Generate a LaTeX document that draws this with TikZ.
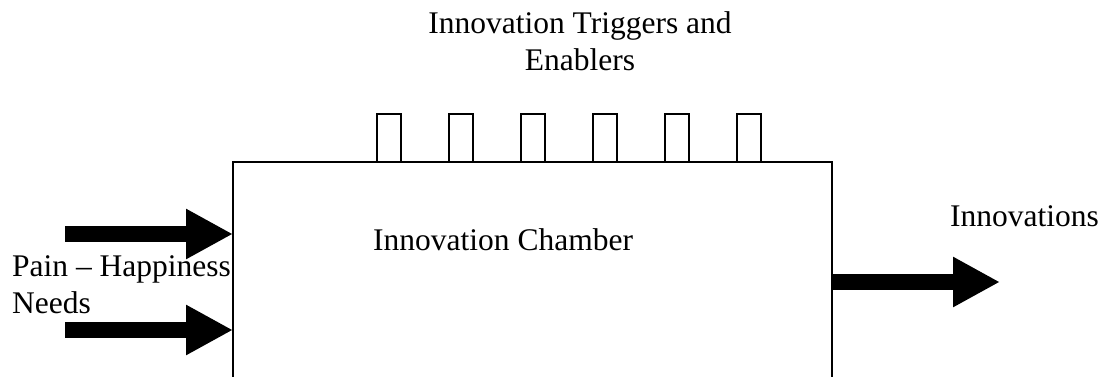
\documentclass[tikz,border=0pt]{standalone}
\usepackage{fontspec}
\setmainfont{Liberation Serif}
\usetikzlibrary{arrows.meta}

\tikzset{
  label text/.style={inner sep=0pt, font=\fontsize{31.5}{37}\selectfont},
  chamberbox/.style={draw=black, line width=2pt, fill=white, inner sep=0pt, outer sep=0pt},
  trigger/.style={draw=black, line width=2pt, minimum width=24pt, minimum height=48pt, inner sep=0pt, outer sep=0pt},
  bigarrow/.style={line width=16pt, -{Triangle[length=47pt, width=47pt]}}
}

\begin{document}
\begin{tikzpicture}[x=1pt, y=-1pt]
  \useasboundingbox (0,0) rectangle (1104,376);
  \clip (0,0) rectangle (1104,376);

  % heading above the chamber
  \node[label text, align=center, anchor=north] (heading) at (580,11.5)
    {Innovation Triggers and\\Enablers};

  % input label on the left
  \node[label text, align=left, anchor=north west] (needs) at (12,255.5)
    {Pain \textendash{} Happiness\\Needs};

  % the chamber itself, running off the lower edge
  \node[chamberbox, minimum width=599pt, minimum height=260pt] (chamber) at (532.5,292) {};
  \node[label text, anchor=base west] (chambername) at (373,250) {Innovation Chamber};

  % triggers and enablers sitting on the chamber
  \foreach \i in {0,...,5} {
    \node[trigger] (t\i) at ({389+72*\i},138) {};
  }

  % output label
  \node[label text, anchor=base west] (outname) at (950,226) {Innovations};

  % arrows in and out
  \coordinate (in1) at (65,234);
  \coordinate (in2) at (65,330);
  \coordinate (out) at (1000,282);
  \draw[bigarrow] (in1) -- (in1 -| chamber.west);
  \draw[bigarrow] (in2) -- (in2 -| chamber.west);
  \draw[bigarrow] (out -| chamber.east) -- (out);
\end{tikzpicture}
\end{document}
